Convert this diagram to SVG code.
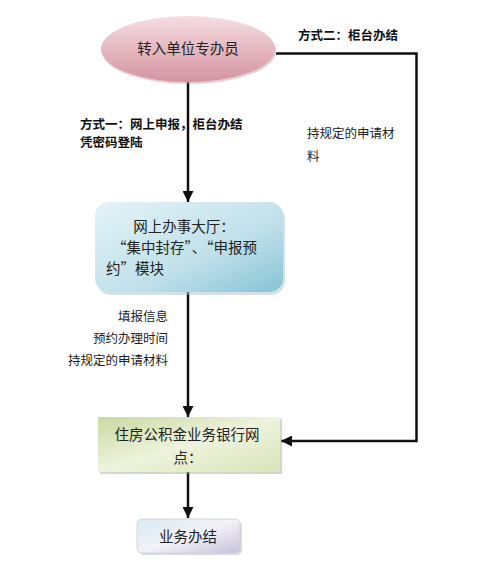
<svg xmlns="http://www.w3.org/2000/svg" width="500" height="575" viewBox="0 0 500 575">
<style>
.lbl{font-family:"Noto Sans CJK SC","Liberation Sans",sans-serif;font-size:12.5px;fill:#222}
.bold{font-weight:bold;font-size:12.5px;fill:#111}
.node{font-family:"Noto Sans CJK SC","Liberation Sans",sans-serif;font-size:14.5px;fill:#222}
.ln{stroke:#111;stroke-width:2.5;fill:none}
</style>
<defs>
<linearGradient id="gPink" x1="0" y1="0" x2="0" y2="1"><stop offset="0" stop-color="#f6dde2"/><stop offset="1" stop-color="#d494a0"/></linearGradient>
<linearGradient id="gBlue" x1="0" y1="0" x2="1" y2="1"><stop offset="0" stop-color="#e4f3f8"/><stop offset="0.6" stop-color="#bfe0ea"/><stop offset="1" stop-color="#86c3d6"/></linearGradient>
<linearGradient id="gGreen" x1="0" y1="0" x2="1" y2="1"><stop offset="0" stop-color="#c9d9a0"/><stop offset="0.5" stop-color="#eef3dd"/><stop offset="1" stop-color="#d9e4b8"/></linearGradient>
<linearGradient id="gLav" x1="0" y1="0" x2="1" y2="1"><stop offset="0" stop-color="#d8eaf2"/><stop offset="0.5" stop-color="#f2f2f7"/><stop offset="1" stop-color="#c8c0dc"/></linearGradient>
<marker id="arr" viewBox="0 0 10 10" refX="10" refY="5" markerWidth="4.4" markerHeight="4.4" orient="auto" markerUnits="strokeWidth"><path d="M0,0 L10,5 L0,10 z" fill="#111"/></marker>
</defs>
<rect width="500" height="575" fill="#fff"/>
<g id="connectors">
<path class="ln" d="M188,80 V202" marker-end="url(#arr)"/>
<path class="ln" d="M188,292 V417" marker-end="url(#arr)"/>
<path class="ln" d="M188,472 V518" marker-end="url(#arr)"/>
<path class="ln" d="M276,53.5 H416.5 V441 H281" marker-end="url(#arr)"/>
</g>
<g id="labels">
<text class="lbl bold" x="298" y="40">方式二：柜台办结</text>
<text class="lbl bold" x="80" y="129">方式一：网上申报，柜台办结</text>
<text class="lbl bold" x="80" y="147">凭密码登陆</text>
<text class="lbl" x="307" y="138">持规定的申请材</text>
<text class="lbl" x="307" y="161">料</text>
<text class="lbl" x="168" y="321" text-anchor="end">填报信息</text>
<text class="lbl" x="168" y="343" text-anchor="end">预约办理时间</text>
<text class="lbl" x="168" y="365" text-anchor="end">持规定的申请材料</text>
</g>
<g id="n1">
<ellipse cx="189" cy="51" rx="87" ry="33" fill="#c8a0a8" opacity="0.5"/>
<ellipse cx="188" cy="49" rx="87" ry="33" fill="url(#gPink)"/>
<text class="node" x="188" y="54" text-anchor="middle">转入单位专办员</text>
</g>
<g id="n2">
<rect x="97" y="205" width="188" height="90" rx="14" fill="#b0c4cc" opacity="0.5"/>
<rect x="95" y="202" width="188" height="90" rx="14" fill="url(#gBlue)"/>
<text class="node" x="184" y="232" text-anchor="middle" font-size="15">网上办事大厅：</text>
<text class="node" x="112" y="253" font-size="15">“集中封存”、“申报预</text>
<text class="node" x="106" y="274" font-size="15">约”模块</text>
</g>
<g id="n3">
<rect x="100" y="419" width="182" height="55" fill="#aab09a" opacity="0.5"/>
<rect x="98" y="417" width="182" height="55" fill="url(#gGreen)"/>
<text class="node" x="187" y="440" text-anchor="middle" font-size="15">住房公积金业务银行网</text>
<text class="node" x="188" y="463" text-anchor="middle" font-size="15">点：</text>
</g>
<g id="n4">
<rect x="139" y="521" width="103" height="34" rx="5" fill="#b8b8c4" opacity="0.5"/>
<rect x="137" y="519" width="103" height="34" rx="5" fill="url(#gLav)" stroke="#c8d0dc" stroke-width="0.8"/>
<text class="node" x="188" y="542" text-anchor="middle" font-size="15">业务办结</text>
</g>
</svg>
